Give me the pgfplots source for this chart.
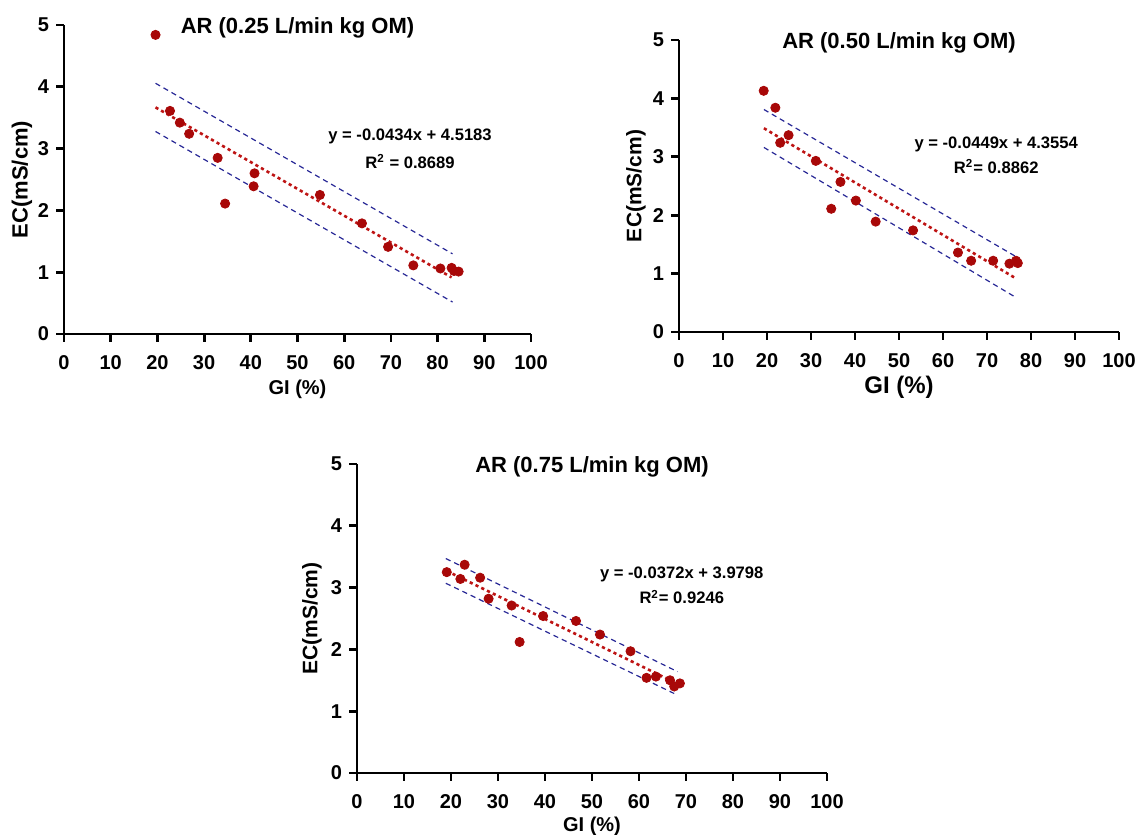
\documentclass[border=0pt]{standalone}
\usepackage{fontspec}
\setmainfont{Liberation Sans}
\usepackage{pgfplots}
\pgfplotsset{compat=1.18}

\definecolor{dotred}{RGB}{168,8,8}
\definecolor{fitred}{RGB}{190,20,20}
\definecolor{bandblue}{RGB}{40,40,150}

\pgfplotsset{
  ecgi/.style={
    scale only axis, anchor=south west,
    xmin=0, xmax=100, ymin=0, ymax=5,
    xtick={0,10,...,100}, ytick={0,1,2,3,4,5},
    axis lines=left, axis line style={-, line width=1.4pt},
    tick align=outside, major tick length=4pt,
    tick style={black, line width=1.4pt},
    /pgf/number format/assume math mode=true,
    tick label style={font=\fontsize{10}{12}\selectfont\bfseries},
    xticklabel style={yshift=-3pt},
    title style={at={(axis description cs:0.5,1)}, anchor=center, yshift=-7.5pt,
      font=\fontsize{11}{13}\selectfont\bfseries},
    ylabel={EC(mS/cm)}, xlabel={GI (\%)},
    clip=false,
  },
  pts/.style={only marks, mark=*, mark size=2.3pt, color=dotred},
  fit/.style={fitred, line width=1.3pt, dash pattern=on 1.6pt off 1.6pt},
  band/.style={bandblue, line width=0.6pt, dash pattern=on 2.6pt off 2pt},
}
\tikzset{eq/.style={font=\fontsize{8.3}{10}\selectfont\bfseries}}

\begin{document}
\begin{tikzpicture}
\path[use as bounding box] (0,0) rectangle (568.5pt,417.5pt);

% panel 1
\begin{axis}[ecgi, at={(32pt,250.5pt)}, width=233.5pt, height=154.5pt,
  title={AR (0.25 L/min kg OM)},
  ylabel style={at={(axis description cs:-0.09,0.5)}, anchor=center,
    font=\fontsize{11}{12}\selectfont\bfseries},
  xlabel style={at={(axis description cs:0.5,-0.178)}, anchor=center,
    font=\fontsize{10}{12}\selectfont\bfseries}]
\addplot[band] coordinates {(19.6,4.057) (83.2,1.297)};
\addplot[band] coordinates {(19.6,3.277) (83.2,0.517)};
\addplot[fit] coordinates {(19.6,3.667) (83.0,0.916)};
\addplot[pts] coordinates {
(19.6,4.84) (22.7,3.61) (24.8,3.42) (26.8,3.24) (32.9,2.85) (34.5,2.11)
(40.8,2.60) (40.6,2.39) (54.8,2.25) (63.8,1.79) (69.4,1.41) (74.8,1.11)
(80.6,1.06) (83.0,1.07) (83.5,1.02) (84.5,1.01)};
\node[eq] at (axis cs:74.1,3.19) {y = -0.0434x + 4.5183};
\node[eq] at (axis cs:74.1,2.79) {R\textsuperscript{2} = 0.8689};
\end{axis}

% panel 2
\begin{axis}[ecgi, at={(339.5pt,251.5pt)}, width=220pt, height=146pt,
  title={AR (0.50 L/min kg OM)},
  ylabel style={at={(axis description cs:-0.098,0.5)}, anchor=center,
    font=\fontsize{10.5}{12}\selectfont\bfseries},
  xlabel style={at={(axis description cs:0.5,-0.19)}, anchor=center,
    font=\fontsize{12}{14}\selectfont\bfseries}]
\addplot[band] coordinates {(19.3,3.81) (76.6,1.29)};
\addplot[band] coordinates {(19.3,3.16) (76.6,0.59)};
\addplot[fit] coordinates {(19.3,3.489) (76.6,0.916)};
\addplot[pts] coordinates {
(19.25,4.13) (21.9,3.84) (23.0,3.24) (24.9,3.37) (31.1,2.93) (36.7,2.57)
(34.6,2.11) (40.2,2.25) (44.7,1.89) (53.2,1.74) (63.4,1.36) (66.4,1.22)
(71.4,1.22) (75.1,1.17) (76.6,1.22) (77.0,1.18)};
\node[eq] at (axis cs:72.1,3.21) {y = -0.0449x + 4.3554};
\node[eq] at (axis cs:72.1,2.83) {R\textsuperscript{2}= 0.8862};
\end{axis}

% panel 3
\begin{axis}[ecgi, at={(178.5pt,31pt)}, width=235pt, height=154.5pt,
  title={AR (0.75 L/min kg OM)},
  ylabel style={at={(axis description cs:-0.096,0.5)}, anchor=center,
    font=\fontsize{10.5}{12}\selectfont\bfseries},
  xlabel style={at={(axis description cs:0.5,-0.172)}, anchor=center,
    font=\fontsize{10}{12}\selectfont\bfseries}]
\addplot[band] coordinates {(18.9,3.47) (68.2,1.64)};
\addplot[band] coordinates {(18.9,3.07) (68.2,1.26)};
\addplot[fit] coordinates {(19.1,3.269) (68.2,1.443)};
\addplot[pts] coordinates {
(19.1,3.25) (22.0,3.14) (22.9,3.37) (26.2,3.16) (28.0,2.82) (32.9,2.71)
(34.6,2.12) (39.6,2.54) (46.6,2.46) (51.7,2.24) (58.2,1.97) (61.6,1.54)
(63.6,1.56) (66.6,1.50) (67.5,1.40) (68.7,1.45)};
\node[eq] at (axis cs:69.1,3.22) {y = -0.0372x + 3.9798};
\node[eq] at (axis cs:69.1,2.85) {R\textsuperscript{2}= 0.9246};
\end{axis}
\end{tikzpicture}
\end{document}
